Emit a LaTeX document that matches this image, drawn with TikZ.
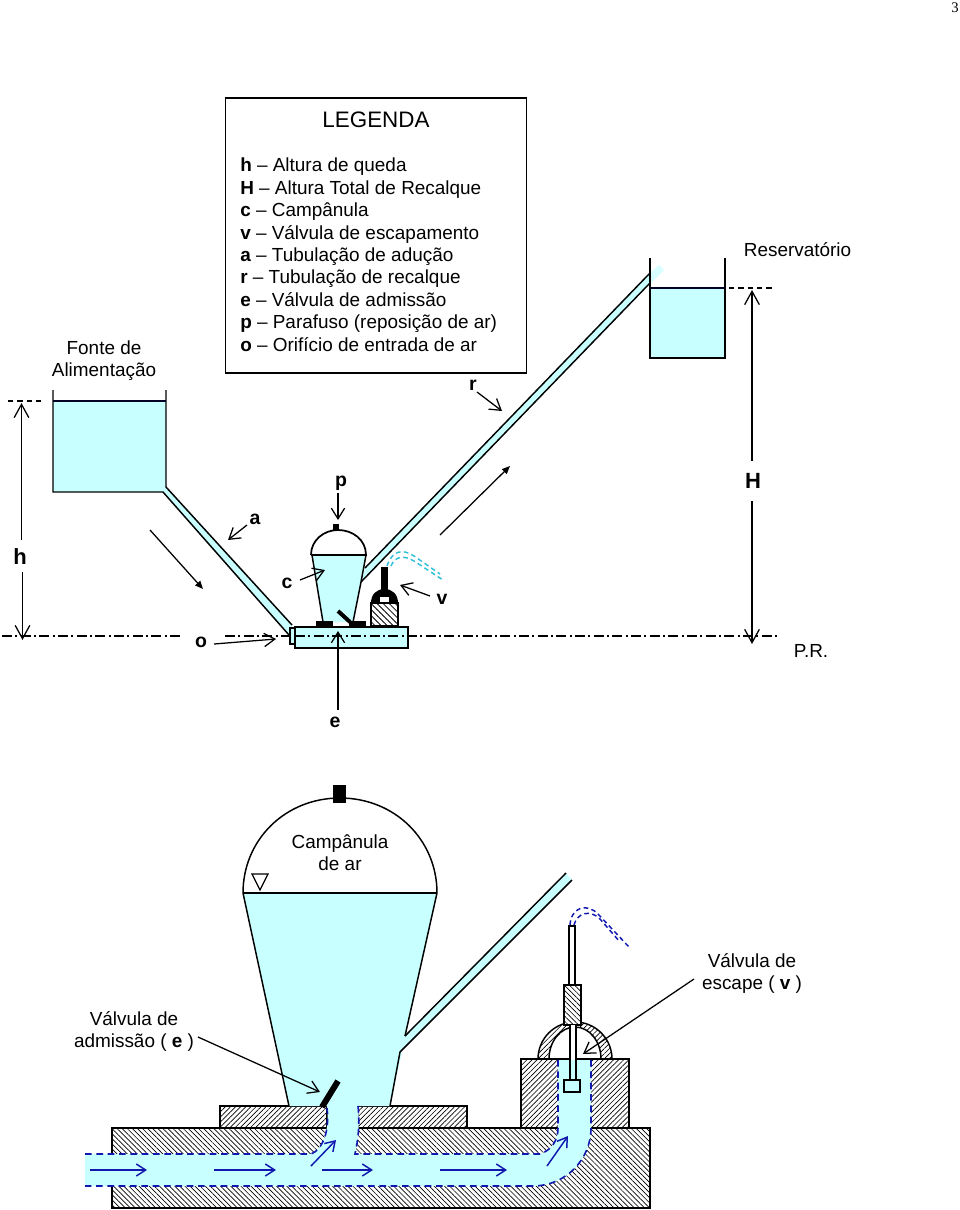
\documentclass[tikz,border=0pt]{standalone}
\usepackage{fontspec}
\setmainfont{Liberation Sans}
\newfontfamily\serifnum{Liberation Serif}
\usetikzlibrary{arrows.meta,patterns.meta}
\definecolor{water}{HTML}{C8FFFF}
\definecolor{flow}{HTML}{1018B0}
\definecolor{spray}{HTML}{30C0D8}
\tikzset{
  lbl/.style={inner sep=0pt,font=\fontsize{14.2}{16.5}\selectfont,align=center},
  bold lbl/.style={lbl,font=\fontsize{14.6}{16.5}\selectfont\bfseries},
  wall/.style={draw=black,line width=1.1pt},
  thin wall/.style={draw=black,line width=0.9pt},
  fluid/.style={fill=water,draw=none},
  level/.style={draw=black!85!blue,line width=1.7pt},
  ptr/.style={draw=black,line width=0.95pt,-{Straight Barb[length=8pt,width=10pt,line width=0.95pt]}},
  dim/.style={draw=black,line width=0.95pt,-{Straight Barb[length=10pt,width=11pt,line width=0.95pt]}},
  solid tip/.style={draw=black,line width=0.95pt,-{Triangle[length=6pt,width=5pt]}},
  flow arrow/.style={draw=flow,line width=1.1pt,-{Straight Barb[length=7pt,width=9pt,line width=1.1pt]}},
  flow edge/.style={draw=flow,line width=1.2pt,dash pattern=on 5pt off 3.5pt},
  axis/.style={draw=black,line width=0.8pt,dash pattern=on 7.5pt off 2.5pt on 1.5pt off 2.5pt},
  refline/.style={draw=black,line width=0.9pt,dash pattern=on 4pt off 3pt},
  hatch up/.style={pattern={Lines[angle=45,distance=2.7pt,line width=0.5pt]}},
  hatch down/.style={pattern={Lines[angle=-45,distance=2.7pt,line width=0.5pt]}},
  hatch coarse/.style={pattern={Lines[angle=-45,distance=3.2pt,line width=0.6pt]}},
  spray jet/.style={draw=spray,line width=1.1pt,dash pattern=on 3.5pt off 2.5pt},
  blue jet/.style={draw=flow,line width=1.1pt,dash pattern=on 3.5pt off 2.5pt},
}
\begin{document}
\begin{tikzpicture}[x=0.75pt,y=-0.75pt]
\useasboundingbox (0,0) rectangle (960,1210);

\node[inner sep=0pt,font=\fontsize{11}{13}\selectfont\serifnum] (pagenum) at (955,8) {3};

% legend
\node[draw=black,line width=1.1pt,minimum width=226pt,minimum height=206pt,inner sep=0pt] (legendbox) at (376,235.5) {};
\node[inner sep=0pt,font=\fontsize{16.8}{20}\selectfont] (legendtitle) at (376,119.5) {LEGENDA};
\node[inner sep=0pt,anchor=north west,align=left,font=\fontsize{14.2}{16.8}\selectfont] (legendtext) at (240,158) {%
\textbf{h} – Altura de queda\\
\textbf{H} – Altura Total de Recalque\\
\textbf{c} – Campânula\\
\textbf{v} – Válvula de escapamento\\
\textbf{a} – Tubulação de adução\\
\textbf{r} – Tubulação de recalque\\
\textbf{e} – Válvula de admissão\\
\textbf{p} – Parafuso (reposição de ar)\\
\textbf{o} – Orifício de entrada de ar};

% supply tank and drive pipe
\fill[water] (53,401) rectangle (166,492);
\fill[water] (163,492) -- (166,487) -- (292,625) -- (292,636) -- (289,635) -- cycle;
\draw[wall] (53,390) -- (53,492) -- (163,492) -- (289,635);
\draw[wall] (166,390) -- (166,487) -- (292,625);
\draw[level] (53,401) -- (166,401);
\node[lbl] (supply) at (104,360.5) {Fonte de\\Alimentação};

% delivery pipe and reservoir
\fill[water!70!white] (650,273) -- (659,265) -- (664,270) -- (650,284) -- cycle;
\fill[water] (365,568) -- (650,273) -- (650,283) -- (361,582) -- cycle;
\draw[wall] (365,568) -- (650,273);
\draw[wall] (361,582) -- (650,283);
\fill[water] (650,288) rectangle (725,358);
\draw[wall] (650,258) -- (650,358) -- (725,358) -- (725,258);
\draw[level] (650,288) -- (725,288);
\node[lbl] (reservoir) at (797.5,250) {Reservatório};

% ram body
\fill[water] (295,627) rectangle (408,648);
\fill[water] (290,628) rectangle (295,644);
\fill[water] (312,555) -- (366,555) -- (353,622) -- (323,622) -- cycle;
\draw[wall] (295,627) rectangle (408,648);
\draw[wall] (290,628) rectangle (295,644);
\draw[wall] (312,555) -- (323,622);
\draw[wall] (366,555) -- (361,582) (361,582) -- (353,622);
\draw[wall,line width=1.3pt] (311,555) -- (367,555);
\draw[wall,line width=1.3pt] (311,555) .. controls (311,540) and (324,530) .. (338,530) .. controls (353,530) and (366,540) .. (366,555);
\fill[black] (333,524) rectangle (339,530);
\fill[black] (316,621) rectangle (333,627);
\fill[black] (349,621) rectangle (366,627);
\draw[black,line width=3pt] (338,611) -- (350,622);

% waste valve, small
\fill[white] (371,603) rectangle (398,626);
\draw[wall,hatch coarse] (371,603) rectangle (398,626);
\fill[black] (371,603) .. controls (371,594) and (377,589) .. (384.5,589) .. controls (392,589) and (398,594) .. (398,603) -- cycle;
\fill[black] (380.5,567) rectangle (387.5,592);
\fill[white] (380,597) rectangle (389,602);
\draw[spray jet] (387,566) .. controls (392,551) and (402,548) .. (414,556) -- (440,574);
\draw[spray jet] (391,566) .. controls (395,556) and (404,555) .. (414,561) -- (443,580);

% center line and reference levels
\draw[axis] (2,636) -- (180,636);
\draw[axis] (225,636) -- (290,636);
\draw[axis] (295,636) -- (780,636);
\draw[refline] (8,401) -- (43,401);
\draw[refline] (729,288) -- (775,288);

% height dimensions
\node[bold lbl,font=\fontsize{16.5}{18}\selectfont\bfseries] (hsmall) at (20,557) {h};
\node[bold lbl,font=\fontsize{16.5}{18}\selectfont\bfseries] (Hbig) at (753,481) {H};
\coordinate (h-top) at (21.5,403);
\coordinate (h-bottom) at (22.5,640);
\coordinate (H-top) at (752,290);
\coordinate (H-bottom) at (752,644);
\draw[dim] (hsmall.north -| h-top) ++(0,-9) -- (h-top);
\draw[dim] (hsmall.south -| h-bottom) ++(0,7) -- (h-bottom);
\draw[dim] (Hbig.north -| H-top) ++(0,-12) -- (H-top);
\draw[dim] (Hbig.south -| H-bottom) ++(0,12) -- (H-bottom);
\node[lbl] (prlabel) at (811,651) {P.R.};

% flow direction arrows
\coordinate (down-a) at (150,530);
\coordinate (down-b) at (203,589);
\coordinate (up-a) at (440,535);
\coordinate (up-b) at (510,466);
\draw[solid tip] (down-a) -- (down-b);
\draw[solid tip] (up-a) -- (up-b);

% lettered callouts
\node[bold lbl] (lbl-r) at (473,385) {r};
\node[bold lbl] (lbl-a) at (255,519) {a};
\node[bold lbl] (lbl-p) at (341,483) {p};
\node[bold lbl] (lbl-c) at (287,583) {c};
\node[bold lbl] (lbl-v) at (442,599) {v};
\node[bold lbl] (lbl-o) at (201,642) {o};
\node[bold lbl] (lbl-e) at (335,722) {e};
\coordinate (r-from) at (477,392);
\coordinate (r-to) at (502,411);
\coordinate (a-from) at (247,525);
\coordinate (a-to) at (228,540);
\coordinate (p-from) at (338,493);
\coordinate (p-to) at (338,520);
\coordinate (c-from) at (300,580);
\coordinate (c-to) at (325,570);
\coordinate (v-from) at (430,596);
\coordinate (v-to) at (400,585);
\coordinate (o-from) at (214,644);
\coordinate (o-to) at (276,639);
\coordinate (e-from) at (338,710);
\coordinate (e-to) at (338,631);
\foreach \k in {r,a,p,c,v,o,e} {\draw[ptr] (\k-from) -- (\k-to);}

% ---- enlarged section ----
% base block and plates
\draw[wall,hatch down] (112,1128) rectangle (650,1208);
\draw[wall,hatch up] (220,1106) rectangle (327,1128);
\draw[wall,hatch up] (358,1106) rectangle (467,1128);
\fill[white] (521,1059) rectangle (629,1128);
\draw[wall,hatch up] (521,1059) rectangle (629,1128);

% bonnet of the waste valve
\draw[wall,hatch up] (538,1059) arc[x radius=37,y radius=37,start angle=180,end angle=360] -- (601,1059) arc[x radius=26,y radius=32,start angle=0,end angle=-180] -- cycle;
\fill[white] (564,985) rectangle (581,1025);
\draw[wall,hatch down] (564,985) rectangle (581,1025);
\fill[white] (569,926) rectangle (575,985);
\draw[wall] (569,926) rectangle (575,985);
\fill[white] (570,1025) rectangle (576,1060);
\draw[thin wall] (570,1025) -- (570,1060) (576,1025) -- (576,1060);

% water channel
\fill[water] (85,1154) -- (311,1154) .. controls (322,1150) and (330,1132) .. (327,1106)
  -- (289,1106) -- (243,893) -- (437,893) -- (390,1106) -- (358,1106)
  .. controls (360,1125) and (358,1140) .. (355,1154)
  -- (540,1154) .. controls (552,1150) and (558,1140) .. (558,1128) -- (558,1060)
  -- (591,1060) -- (591,1128) .. controls (591,1160) and (565,1186) .. (533,1186)
  -- (85,1186) -- cycle;

% side-branch pipe
\fill[water] (405,1036) -- (566,873) -- (572,880) -- (400,1052) -- cycle;
\draw[wall] (405,1036) -- (566,873);
\draw[wall] (400,1052) -- (572,880);

% air chamber
\draw[wall] (243,893) .. controls (243,840) and (285,798) .. (340,798) .. controls (395,798) and (437,840) .. (437,893);
\draw[wall] (243,893) -- (289,1106);
\draw[wall] (437,893) -- (405,1036) (400,1052) -- (390,1106);
\draw[wall] (243,893) -- (437,893);
\fill[black] (333,785) rectangle (346,803);
\draw[thin wall] (252,874) -- (268,874) -- (260,890) -- cycle;
\node[lbl] (chamber) at (340,852.5) {Campânula\\de ar};

% flow boundaries
\draw[flow edge] (85,1154) -- (311,1154) .. controls (322,1150) and (330,1132) .. (327,1108);
\draw[flow edge] (358,1106) .. controls (360,1125) and (358,1140) .. (355,1154) -- (540,1154) .. controls (552,1150) and (558,1140) .. (558,1128) -- (558,1060);
\draw[flow edge] (591,1060) -- (591,1128) .. controls (591,1160) and (565,1186) .. (533,1186) -- (85,1186);

% valve stems and discs
\draw[black,line width=4.5pt] (322,1107) -- (338,1081);
\draw[black,line width=1.6pt] (570,1059) -- (570,1080) (576,1059) -- (576,1080);
\draw[black,line width=1.6pt,fill=water] (564,1080) rectangle (580,1092);

% spray from the open waste port
\draw[blue jet] (570,925) .. controls (571,908) and (586,902) .. (598,914) -- (629,947);
\draw[blue jet] (574,925) .. controls (577,913) and (590,909) .. (600,919) -- (620,942);

% flow arrows
\coordinate (f1a) at (90,1170);  \coordinate (f1b) at (147,1170);
\coordinate (f2a) at (214,1170); \coordinate (f2b) at (276,1170);
\coordinate (f3a) at (322,1170); \coordinate (f3b) at (373,1170);
\coordinate (f4a) at (440,1170); \coordinate (f4b) at (507,1170);
\coordinate (f5a) at (311,1166); \coordinate (f5b) at (336,1140);
\coordinate (f6a) at (547,1166); \coordinate (f6b) at (568,1136);
\foreach \k in {1,...,6} {\draw[flow arrow] (f\k a) -- (f\k b);}

% section callouts
\node[lbl] (inlet) at (134,1031) {Válvula de\\admissão ( \textbf{e} )};
\node[lbl] (outlet) at (752,973) {Válvula de\\escape ( \textbf{v} )};
\coordinate (inlet-from) at (198,1037);
\coordinate (inlet-to) at (320,1092);
\coordinate (outlet-from) at (694,979);
\coordinate (outlet-to) at (583,1054);
\draw[ptr] (inlet-from) -- (inlet-to);
\draw[ptr] (outlet-from) -- (outlet-to);
\end{tikzpicture}
\end{document}
